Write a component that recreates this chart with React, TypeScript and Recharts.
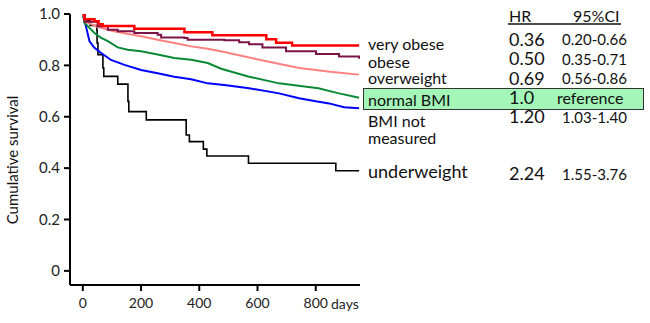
import React from 'react';
import { LineChart, Line, XAxis, YAxis } from 'recharts';

// Kaplan-Meier curves: [day, cumulative survival]
const veryObese: number[][] = [
  [0, 1.0], [6, 0.98], [40, 0.972], [54, 0.96], [68, 0.953], [177, 0.943],
  [349, 0.929], [445, 0.917], [630, 0.902], [664, 0.888], [719, 0.877], [949, 0.877],
];
const obese: number[][] = [
  [0, 1.0], [6, 0.97], [51, 0.952], [86, 0.939], [120, 0.933], [177, 0.926],
  [257, 0.919], [269, 0.909], [349, 0.907], [360, 0.9], [486, 0.898], [537, 0.89],
  [571, 0.882], [617, 0.87], [698, 0.855], [801, 0.844], [880, 0.835], [949, 0.826],
];
const overweight: number[][] = [
  [0, 1.0], [10, 0.97], [50, 0.95], [100, 0.935], [137, 0.926], [200, 0.913],
  [257, 0.9], [314, 0.887], [372, 0.874], [429, 0.865], [486, 0.852], [606, 0.822],
  [743, 0.79], [850, 0.775], [949, 0.764],
];
const normalBMI: number[][] = [
  [0, 1.0], [6, 0.965], [23, 0.946], [40, 0.926], [63, 0.907], [86, 0.894],
  [120, 0.87], [154, 0.861], [200, 0.855], [257, 0.842], [314, 0.829], [372, 0.822],
  [429, 0.809], [475, 0.787], [571, 0.756], [674, 0.73], [809, 0.711], [880, 0.691],
  [949, 0.674],
];
const notMeasured: number[][] = [
  [0, 1.0], [12, 0.946], [23, 0.894], [40, 0.868], [63, 0.848], [97, 0.821],
  [143, 0.802], [200, 0.782], [257, 0.769], [314, 0.756], [372, 0.746], [429, 0.73],
  [486, 0.724], [571, 0.711], [674, 0.691], [743, 0.672], [800, 0.66], [846, 0.652],
  [897, 0.637], [949, 0.633],
];
const underweight: number[][] = [
  [0, 1.0], [8, 0.975], [25, 0.955], [48, 0.938], [49, 0.887], [52, 0.842],
  [69, 0.79], [72, 0.757], [120, 0.727], [155, 0.66], [158, 0.62], [218, 0.588],
  [355, 0.529], [366, 0.503], [414, 0.474], [426, 0.447], [569, 0.419], [869, 0.39],
  [949, 0.39],
];

const xTicks = [0, 200, 400, 600, 800];
const yTicks = [0, 0.2, 0.4, 0.6, 0.8, 1.0];

const groupLabels = ['very obese', 'obese', 'overweight', 'normal BMI', 'BMI not measured', 'underweight'];
const hrValues = ['0.36', '0.50', '0.69', '1.0', '1.20', '2.24'];
const ciValues = ['0.20-0.66', '0.35-0.71', '0.56-0.86', 'reference', '1.03-1.40', '1.55-3.76'];

const toData = (arr: number[][]) => arr.map(([t, s]) => ({ t, s }));

const FONT = 'Lato, "Open Sans", sans-serif';

export default function App() {
  const labelY = [43, 61, 77.5, 99, 120, 171];
  const hrY = [39, 58, 77.5, 97, 116, 172.5];
  const ciY = [39, 58.5, 77.5, 97, 117, 173.5];
  return (
    <div style={{ position: 'relative', width: 650, height: 323, background: '#fff', fontFamily: FONT }}>
      <style>{'body{margin:0}'}</style>
      <LineChart width={650} height={323} margin={{ top: 14, right: 290, bottom: 0, left: 0 }}>
        <XAxis
          type="number"
          dataKey="t"
          domain={[-44, 952]}
          ticks={xTicks}
          allowDataOverflow
          height={38}
          stroke="#000"
          strokeWidth={2}
          tickSize={6}
          tickLine={{ stroke: '#000', strokeWidth: 2 }}
          tickMargin={7}
          tick={{ fill: '#222', fontSize: 14, fontFamily: FONT }}
        />
        <YAxis
          type="number"
          domain={[-0.055, 1.0]}
          ticks={yTicks}
          allowDataOverflow
          width={70}
          stroke="#000"
          strokeWidth={2}
          tickSize={6}
          tickLine={{ stroke: '#000', strokeWidth: 2 }}
          tickMargin={4}
          tickFormatter={(v: number) => (v === 0 ? '0' : v.toFixed(1))}
          tick={{ fill: '#222', fontSize: 15, fontFamily: FONT }}
        />
        <Line data={toData(underweight)} dataKey="s" type="stepAfter" stroke="#000" strokeWidth={1.6} dot={false} isAnimationActive={false} />
        <Line data={toData(notMeasured)} dataKey="s" type="linear" stroke="#0000ff" strokeWidth={2} dot={false} isAnimationActive={false} />
        <Line data={toData(normalBMI)} dataKey="s" type="linear" stroke="#0a8a36" strokeWidth={2} dot={false} isAnimationActive={false} />
        <Line data={toData(overweight)} dataKey="s" type="linear" stroke="#ff8080" strokeWidth={2} dot={false} isAnimationActive={false} />
        <Line data={toData(obese)} dataKey="s" type="stepAfter" stroke="#7d1448" strokeWidth={2} dot={false} isAnimationActive={false} />
        <Line data={toData(veryObese)} dataKey="s" type="stepAfter" stroke="#ff0000" strokeWidth={2.5} dot={false} isAnimationActive={false} />
      </LineChart>
      <svg width={650} height={323} style={{ position: 'absolute', left: 0, top: 0, pointerEvents: 'none' }} fontFamily={FONT}>
        <text x={12} y={160} transform="rotate(-90, 12, 160)" textAnchor="middle" dominantBaseline="central" fontSize={15} fill="#111">
          Cumulative survival
        </text>
        <text x={331} y={303} dominantBaseline="central" fontSize={14} fill="#222">days</text>
        <rect x={363.5} y={88.5} width={280} height={21} fill="#a3f5b8" stroke="#333" strokeWidth={1} />
        <text x={509} y={15} dominantBaseline="central" fontSize={16} fill="#111">HR</text>
        <text x={573} y={15} dominantBaseline="central" fontSize={16} fill="#111">95%CI</text>
        <line x1={508} x2={621} y1={24} y2={24} stroke="#111" strokeWidth={1.5} />
        {groupLabels.map((g, i) => {
          if (g === 'BMI not measured') {
            return (
              <text key={g} x={368} fontSize={16} fill="#111" dominantBaseline="central">
                <tspan x={368} y={120}>BMI not</tspan>
                <tspan x={368} y={137}>measured</tspan>
              </text>
            );
          }
          return (
            <text key={g} x={368} y={labelY[i]} dominantBaseline="central" fontSize={g === 'underweight' ? 18 : 16} fill="#111">
              {g}
            </text>
          );
        })}
        {hrValues.map((h, i) => (
          <text key={'hr' + i} x={509} y={hrY[i]} dominantBaseline="central" fontSize={18} fill="#111">{h}</text>
        ))}
        {ciValues.map((c, i) => (
          <text key={'ci' + i} x={c === 'reference' ? 557 : 562} y={ciY[i]} dominantBaseline="central" fontSize={c === 'reference' ? 16 : 15} fill="#111">{c}</text>
        ))}
      </svg>
    </div>
  );
}
